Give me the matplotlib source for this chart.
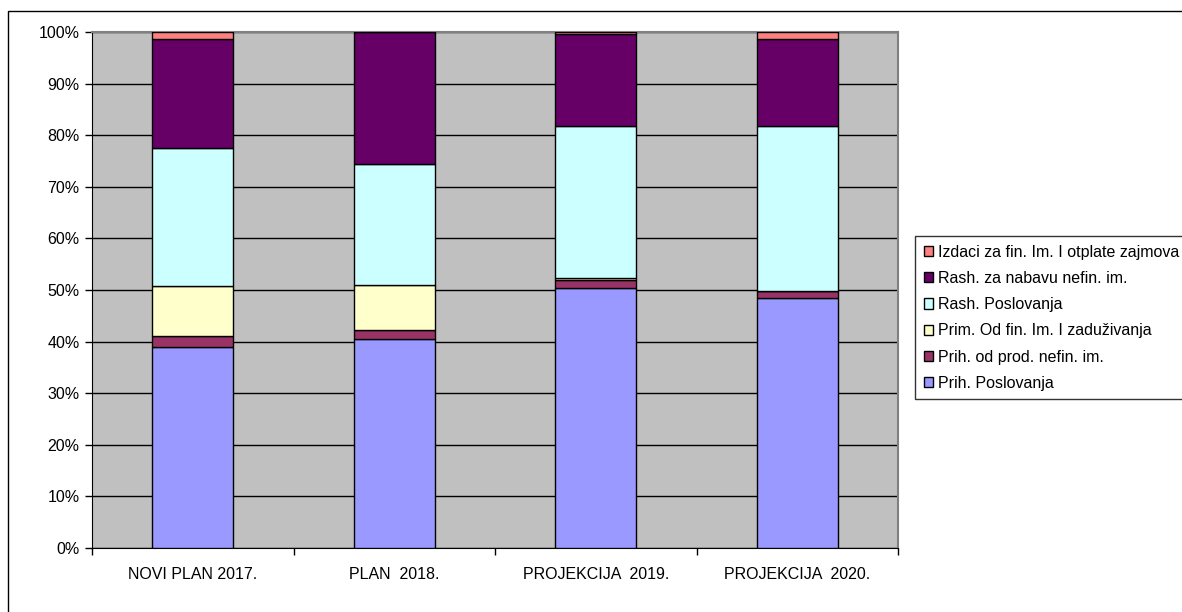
import numpy as np
import matplotlib.pyplot as plt
from matplotlib.patches import Rectangle

plt.rcParams['font.family'] = ['Liberation Sans', 'DejaVu Sans']

# categories and stacked shares (percent)
categories = ['NOVI PLAN 2017.', 'PLAN  2018.', 'PROJEKCIJA  2019.', 'PROJEKCIJA  2020.']
series_names = ['Prih. Poslovanja', 'Prih. od prod. nefin. im.', 'Prim. Od fin. Im. I zaduživanja',
                'Rash. Poslovanja', 'Rash. za nabavu nefin. im.', 'Izdaci za fin. Im. I otplate zajmova']
prih_poslovanja = [38.9, 40.6, 50.3, 48.4]
prih_prod_nefin = [2.1, 1.6, 1.7, 1.5]
prim_fin_zaduz = [9.7, 8.7, 0.3, 0.0]
rash_poslovanja = [26.8, 23.6, 29.5, 31.9]
rash_nabava_nefin = [21.1, 25.5, 17.8, 16.8]
izdaci_fin = [1.4, 0.0, 0.4, 1.4]
series = [prih_poslovanja, prih_prod_nefin, prim_fin_zaduz, rash_poslovanja, rash_nabava_nefin, izdaci_fin]
colors = ['#9999FF', '#993366', '#FFFFCC', '#CCFFFF', '#660066', '#FF8080']

fig = plt.figure(figsize=(11.82, 6.12), dpi=100)
ax = fig.add_axes([92/1182, 1 - 548/612, (898 - 92)/1182, (548 - 32)/612])
ax.set_facecolor('#C0C0C0')

x = np.arange(len(categories))
bottom = np.zeros(len(categories))
handles = []
for vals, name, c in zip(series, series_names, colors):
    b = ax.bar(x, vals, 0.4, bottom=bottom, color=c, edgecolor='black', linewidth=1, label=name, zorder=3)
    handles.append(b)
    bottom += np.array(vals)

ax.set_xlim(-0.5, len(categories) - 0.5)
ax.set_ylim(0, 100)
ax.set_yticks(np.arange(0, 101, 10))
ax.set_yticklabels([f'{v}%' for v in range(0, 101, 10)], fontsize=11.5)
ax.yaxis.grid(True, color='black', linewidth=1)
ax.set_axisbelow(True)

ax.set_xticks(x)
ax.set_xticklabels(categories, fontsize=11.5)
ax.set_xticks(np.arange(-0.5, len(categories)), minor=True)
ax.tick_params(axis='x', which='major', length=0, pad=14)
ax.tick_params(axis='x', which='minor', length=5, width=1, direction='out')
ax.tick_params(axis='y', length=5, width=1, direction='out', pad=4)

for s in ['left', 'bottom']:
    ax.spines[s].set_color('black')
for s in ['top', 'right']:
    ax.spines[s].set_color('#808080')
    ax.spines[s].set_linewidth(1.5)

# outer chart frame (runs off the right and bottom edges)
fig.patches.append(Rectangle((8/1182, -0.1), 1.2, 1.1 - 10.5/612, transform=fig.transFigure,
                             fill=False, edgecolor='black', linewidth=1))

leg = fig.legend(handles[::-1], series_names[::-1], loc='upper left',
                 bbox_to_anchor=(915/1182, 1 - 236/612), fontsize=11.5,
                 frameon=True, fancybox=False, shadow=False, borderaxespad=0,
                 handlelength=0.6, handleheight=0.6, handletextpad=0.3,
                 labelspacing=0.7, borderpad=0.55)
leg.get_frame().set_edgecolor('black')
leg.get_frame().set_linewidth(1)

fig.savefig('out.png', dpi=100)
